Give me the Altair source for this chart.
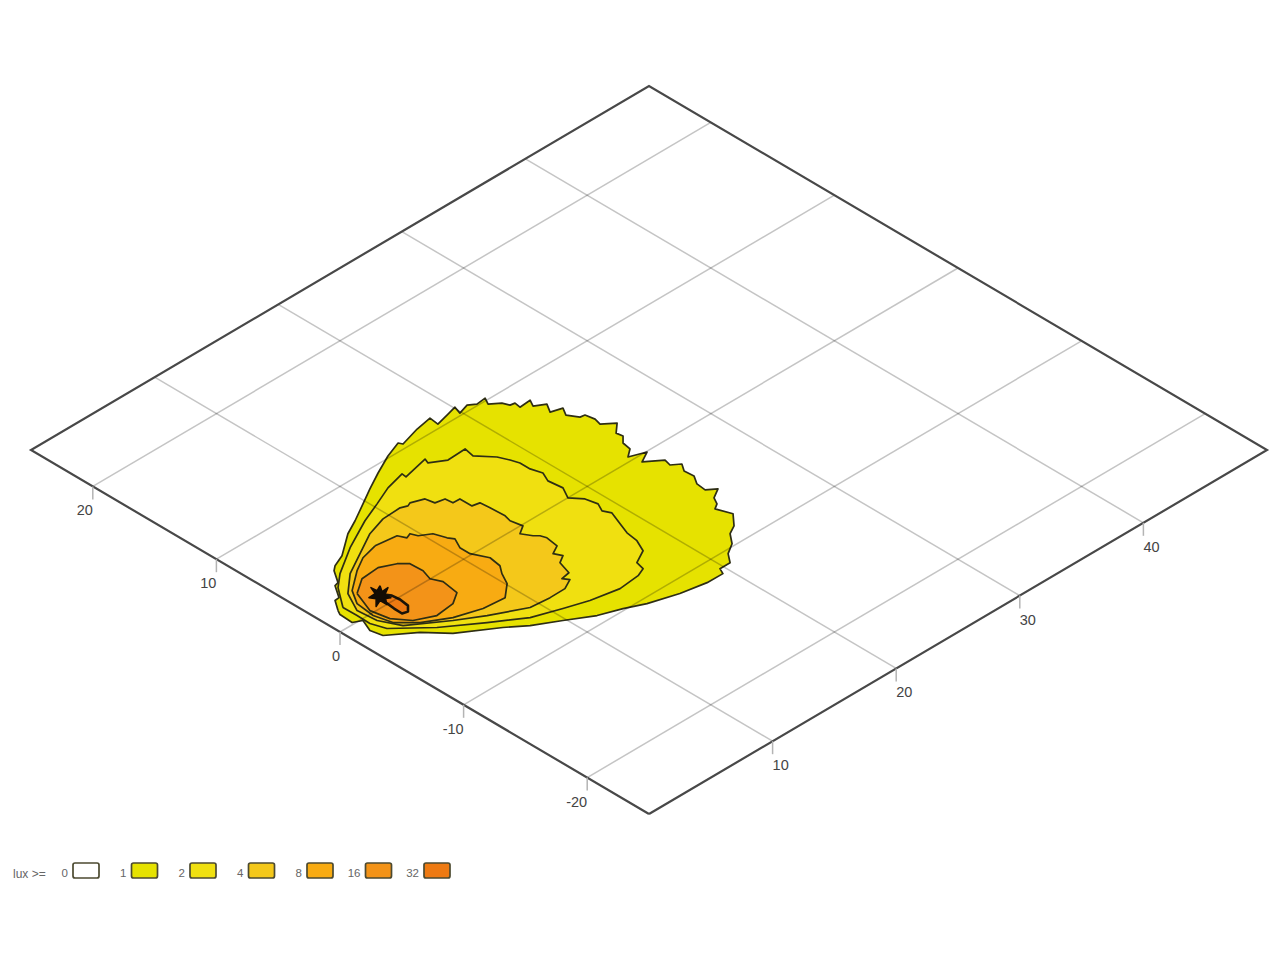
import altair as alt
import pandas as pd

# Contours of illuminance, as (x, y) ground positions (metres)
lux1 = [(1.39,1.55),(1.96,2.36),(2.32,2.40),(2.98,3.38),(3.31,3.47),(3.97,4.45),(4.35,4.75),(5.32,5.16),(7.07,6.43),(8.25,7.03),(9.73,7.87),(11.04,8.62),(12.46,9.38),(14.03,10.15),(15.33,10.63),(15.46,10.36),(17.06,10.82),(18.33,11.05),(18.24,10.32),(19.33,10.59),(20.09,10.79),(19.88,10.18),(20.72,10.44),(21.19,10.11),(21.93,10.19),(21.64,9.66),(22.27,9.17),(22.46,8.70),(22.80,8.64),(22.72,8.16),(23.61,8.23),(23.32,7.70),(24.02,7.28),(23.60,6.60),(24.40,6.36),(24.04,5.76),(24.47,5.05),(24.81,4.99),(24.94,4.30),(24.80,3.76),(25.56,3.14),(24.83,2.49),(24.91,2.01),(24.43,1.53),(24.30,0.84),(23.67,0.37),(24.78,-0.06),(23.90,-0.54),(24.96,-1.34),(24.82,-1.88),(25.37,-2.29),(24.98,-2.86),(25.04,-3.60),(24.61,-4.27),(24.53,-5.01),(25.12,-5.46),(24.34,-5.92),(24.05,-6.45),(23.63,-6.71),(24.02,-7.78),(23.23,-8.65),(22.53,-9.03),(21.92,-9.80),(21.08,-10.32),(20.54,-11.02),(19.72,-11.02),(19.50,-11.48),(18.24,-11.46),(16.39,-11.11),(14.37,-10.47),(13.06,-9.84),(11.53,-9.27),(9.81,-8.23),(8.13,-7.25),(6.90,-6.28),(4.47,-4.67),(3.21,-3.27),(1.50,-1.98),(1.31,-1.11),(1.72,-0.14),(1.14,0.16),(1.20,1.20)]
lux2 = [(1.80,1.56),(2.97,3.13),(4.01,4.01),(6.20,5.38),(8.65,6.63),(10.30,7.30),(11.84,7.96),(13.37,8.35),(13.32,7.98),(15.32,8.44),(15.17,8.05),(16.18,7.44),(17.63,7.51),(17.47,6.71),(18.37,5.67),(18.69,4.93),(18.89,4.33),(18.89,3.51),(19.13,2.71),(18.79,1.97),(18.92,0.88),(18.43,-0.01),(19.05,-0.77),(19.24,-1.64),(18.92,-2.28),(19.18,-2.82),(18.76,-3.90),(18.42,-4.80),(18.28,-5.74),(17.84,-6.68),(16.77,-7.25),(16.61,-7.91),(15.93,-8.19),(14.31,-8.35),(12.27,-7.95),(10.63,-7.41),(8.68,-6.70),(6.60,-5.30),(4.23,-3.61),(2.14,-1.66),(1.79,-0.63),(1.82,0.44)]
lux4 = [(9.51,6.03),(10.96,6.10),(11.41,5.91),(11.70,6.04),(12.58,5.70),(12.71,5.03),(13.39,4.89),(13.44,4.30),(13.99,4.29),(14.00,3.32),(14.53,3.21),(14.60,2.46),(14.66,1.30),(14.52,0.76),(14.69,-0.11),(14.03,-0.53),(14.42,-1.20),(14.70,-1.48),(14.84,-1.90),(14.70,-2.86),(14.00,-3.24),(14.26,-3.78),(13.66,-4.14),(13.33,-5.19),(12.64,-5.32),(12.90,-5.70),(12.08,-6.12),(10.86,-6.14),(9.37,-6.01),(7.08,-4.82),(5.36,-3.78),(2.99,-2.11),(2.29,-0.71),(2.16,0.78),(2.96,2.32),(4.42,3.60),(6.19,4.57),(7.96,5.54)]
lux8 = [(7.34,4.50),(8.92,4.30),(9.18,3.76),(9.58,3.92),(9.77,3.45),(10.51,2.99),(10.80,2.14),(11.05,1.75),(10.64,0.94),(10.64,0.12),(11.17,-0.97),(11.02,-1.92),(10.56,-2.54),(10.08,-3.44),(9.04,-4.32),(7.40,-4.18),(5.56,-3.58),(3.89,-2.59),(2.79,-1.49),(2.47,-0.21),(2.64,1.26),(3.33,2.35),(4.90,3.52),(6.03,4.17)]
lux16 = [(3.33,1.95),(4.55,2.77),(5.96,2.88),(7.00,2.38),(7.52,1.86),(7.57,0.85),(7.30,0.02),(7.63,-0.71),(7.43,-2.03),(6.52,-2.62),(5.05,-2.79),(3.74,-2.16),(2.94,-1.10),(2.68,0.26)]
lux32_a = [(4.35,0.79),(4.60,0.40),(4.66,-0.20),(4.56,-0.94),(4.15,-1.35),(3.78,-1.24),(3.80,-0.58),(3.88,0.16)]
lux32_b = [(4.80,1.56),(4.47,1.07),(4.99,1.11),(4.39,0.75),(4.42,0.30),(4.07,0.51),(3.78,-0.02),(3.78,0.54),(3.21,0.29),(3.75,0.83),(3.53,1.19),(4.06,1.22),(4.30,1.80),(4.34,1.34)]

x_ticks = [10, 20, 30, 40]
y_ticks = [-20, -10, 0, 10, 20]
x_range = [0, 50]
y_range = [-25, 25]
legend_title = "lux >="
legend_labels = ["0", "1", "2", "4", "8", "16", "32"]
legend_colors = ["#ffffff", "#e6e200", "#f0e010", "#f4c81a", "#f8ab12", "#f39318", "#ee7a12"]


def sx(x, y):
    return 649 + 12.36 * (x - y - 25)


def sy(x, y):
    return 814 - 7.28 * (x + y + 25)


X_SCALE = alt.Scale(domain=[8, 1272], nice=False, zero=False)
Y_SCALE = alt.Scale(domain=[948, 8], nice=False, zero=False)
X = alt.X("sx:Q", scale=X_SCALE, axis=None)
Y = alt.Y("sy:Q", scale=Y_SCALE, axis=None)


def outline(points):
    closed = list(points) + [points[0]]
    return pd.DataFrame(
        {"sx": [sx(*p) for p in closed], "sy": [sy(*p) for p in closed], "i": range(len(closed))}
    )


def polygon(points, fill, stroke="#2e2e14", width=1.7):
    return alt.Chart(outline(points)).mark_line(
        fill=fill, stroke=stroke, strokeWidth=width, strokeJoin="round"
    ).encode(x=X, y=Y, order="i:Q")


layers = [
    polygon(lux1, legend_colors[1]),
    polygon(lux2, legend_colors[2]),
    polygon(lux4, legend_colors[3]),
    polygon(lux8, legend_colors[4]),
    polygon(lux16, legend_colors[5]),
    polygon(lux32_a, legend_colors[6], "#1c1408", 2.6),
    polygon(lux32_b, "#140c04", "#140c04", 1.5),
]

# grid: constant-x and constant-y lines across the ground plane
rows = []
for g in x_ticks:
    rows.append({"sx": sx(g, y_range[0]), "sy": sy(g, y_range[0]), "sx2": sx(g, y_range[1]), "sy2": sy(g, y_range[1])})
for g in y_ticks:
    rows.append({"sx": sx(x_range[0], g), "sy": sy(x_range[0], g), "sx2": sx(x_range[1], g), "sy2": sy(x_range[1], g)})
grid = pd.DataFrame(rows)
layers.append(
    alt.Chart(grid).mark_rule(color="#000000", opacity=0.23, strokeWidth=1.5).encode(
        x=X, y=Y, x2="sx2:Q", y2="sy2:Q"
    )
)

# frame
corners = [(x_range[0], y_range[0]), (x_range[1], y_range[0]), (x_range[1], y_range[1]), (x_range[0], y_range[1])]
frame = outline(corners)
layers.append(
    alt.Chart(frame).mark_line(color="#484848", strokeWidth=2.2, strokeJoin="miter").encode(x=X, y=Y, order="i:Q")
)

# ticks and their labels
tick_rows = []
for v in x_ticks:
    tick_rows.append({"sx": sx(v, y_range[0]), "sy": sy(v, y_range[0]), "label": str(v), "side": "x"})
for v in y_ticks:
    tick_rows.append({"sx": sx(x_range[0], v), "sy": sy(x_range[0], v), "label": str(v), "side": "y"})
ticks = pd.DataFrame(tick_rows)
ticks["sy2"] = ticks["sy"] + 13
layers.append(
    alt.Chart(ticks).mark_rule(color="#b4b4b4", strokeWidth=1.5).encode(x=X, y=Y, y2="sy2:Q")
)
for side, align in (("x", "left"), ("y", "right")):
    layers.append(
        alt.Chart(ticks[ticks["side"] == side]).mark_text(
            align=align, baseline="middle", font="Liberation Sans", fontSize=14.5, color="#444444", dy=25
        ).encode(x=X, y=Y, text="label:N")
    )

# legend
leg = pd.DataFrame(
    {
        "sx": [73 + 58.5 * i for i in range(len(legend_labels))],
        "label": legend_labels,
        "color": legend_colors,
    }
)
leg["sx2"] = leg["sx"] + 26
leg["sy"] = 863
leg["sy2"] = 878
leg["ty"] = 874
leg["tx"] = leg["sx"] - 5
layers.append(
    alt.Chart(leg).mark_rect(stroke="#4c4a30", strokeWidth=1.7, cornerRadius=2).encode(
        x=X, y=Y, x2="sx2:Q", y2="sy2:Q", fill=alt.Fill("color:N", scale=None)
    )
)
layers.append(
    alt.Chart(leg).mark_text(align="right", baseline="middle", font="Liberation Sans", fontSize=11.5, color="#666666").encode(
        x=alt.X("tx:Q", scale=X_SCALE, axis=None),
        y=alt.Y("ty:Q", scale=Y_SCALE, axis=None),
        text="label:N",
    )
)
layers.append(
    alt.Chart(pd.DataFrame({"sx": [13], "sy": [874], "label": [legend_title]})).mark_text(
        align="left", baseline="middle", font="Liberation Sans", fontSize=12, color="#666666"
    ).encode(x=X, y=Y, text="label:N")
)

chart = (
    alt.layer(*layers)
    .properties(width=1264, height=940, padding=0, background="#ffffff")
    .configure_view(stroke=None)
)
chart.save("out.html", embed_options={"renderer": "svg", "actions": False})
